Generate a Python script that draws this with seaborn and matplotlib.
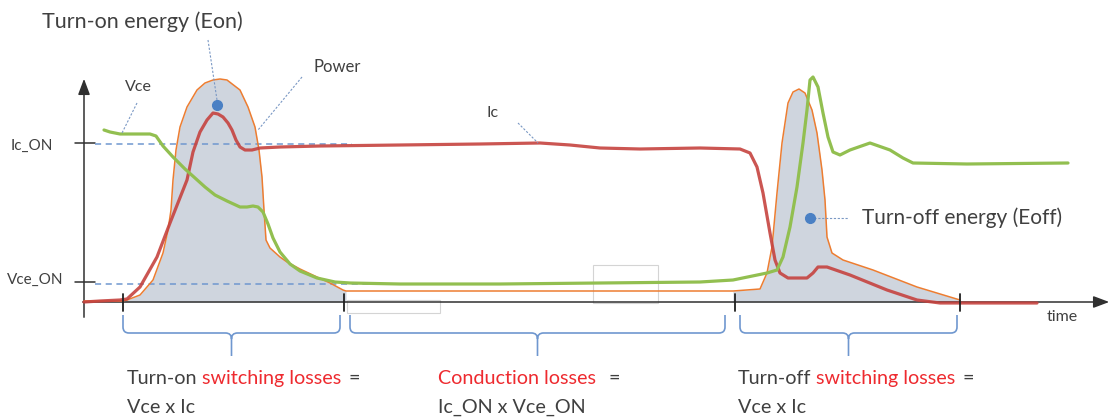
import numpy as np
import pandas as pd
import seaborn as sns
import matplotlib
matplotlib.use("Agg")
import matplotlib.pyplot as plt
from matplotlib.path import Path
from matplotlib.patches import PathPatch, Rectangle

# ---------------- data (time, height above the time axis) ----------------
ic_t = [84, 100, 120, 127, 140, 157, 170, 187, 193, 200, 207, 213, 218, 223, 228, 232, 236, 240, 245, 252,
        260, 280, 320, 400, 480, 540, 570, 600, 640, 700, 740, 750, 757, 763, 770, 775, 780, 788, 807, 813,
        818, 827, 850, 887, 917, 940, 1037]
ic_v = [0, 1, 2, 3, 15, 45, 79, 122, 150, 170, 182, 189, 188, 185, 179, 172, 162, 155, 152, 152,
        154, 155, 156, 157, 158, 159, 157, 154, 153, 154, 153, 149, 135, 109, 69, 42, 29, 24, 24, 29,
        35, 35, 27, 12, 2, -1, -1]

vce_t = [104, 110, 120, 150, 156, 163, 173, 185, 195, 205, 215, 227, 240, 247, 253, 258, 263, 268, 273,
         280, 290, 300, 317, 335, 350, 400, 500, 600, 700, 733, 767, 777, 783, 790, 797, 803, 807, 810,
         813, 818, 823, 828, 833, 840, 850, 870, 890, 903, 913, 967, 1068]
vce_v = [172, 170, 168, 168, 166, 156, 145, 133, 124, 115, 107, 101, 95, 95, 96, 95, 90, 78, 64,
         50, 38, 31, 24, 20, 19, 18, 18, 19, 20, 22, 29, 32, 45, 75, 115, 159, 192, 222,
         225, 215, 189, 165, 150, 147, 152, 159, 152, 144, 139, 138, 139]

pw_t = [84, 122, 127, 140, 153, 163, 168, 171, 173, 176, 180, 187, 197, 205, 213, 220, 227, 240, 248,
        255, 259, 262, 264, 266, 270, 280, 287, 300, 317, 330, 343, 346, 500, 733, 760, 767, 772, 777,
        782, 788, 793, 799, 805, 812, 817, 822, 825, 827, 832, 843, 873, 917, 960]
pw_v = [1, 1, 2, 7, 22, 49, 72, 92, 122, 152, 175, 195, 212, 219, 222, 223, 222, 212, 195,
        175, 152, 125, 92, 62, 54, 45, 40, 33, 25, 19, 12, 11, 11, 11, 13, 29, 55, 109,
        159, 199, 210, 213, 209, 192, 169, 132, 102, 65, 49, 42, 32, 15, 2]

ic_on_level = 158
vce_on_level = 19
phase_edges = [123, 344, 735, 960]
brace_spans = [(123, 340), (350, 725), (740, 957)]

TEXT = "#404040"
RED_TXT = "#EE2A2F"
C_IC = "#C6433F"
C_VCE = "#92BF50"
C_PW = "#ED7D31"
C_FILL = "#CFD5DE"
C_BLUE = "#6F97CF"
C_DOT = "#4A80C4"

sns.set_theme(style="white")
plt.rcParams["font.family"] = ["Lato", "DejaVu Sans"]

fig = plt.figure(figsize=(11.12, 4.19), dpi=100)
ax = fig.add_axes([0, 0, 1, 1])
ax.set_xlim(0, 1112)
ax.set_ylim(-117, 302)
ax.axis("off")

pw_t_a = np.array(pw_t, float)
pw_v_a = np.array(pw_v, float)
m_on = (pw_t_a >= 122) & (pw_t_a <= 346)
m_off = (pw_t_a >= 733) & (pw_t_a <= 960)
ax.fill_between(pw_t_a[m_on], 0, pw_v_a[m_on], color=C_FILL, lw=0, zorder=1)
ax.fill_between(pw_t_a[m_off], 0, pw_v_a[m_off], color=C_FILL, lw=0, zorder=1)

# faint rectangles
ax.add_patch(Rectangle((347, -11), 93, 13, fill=False, ec="#D4D4D4", lw=0.8, zorder=1))
ax.add_patch(Rectangle((593, -1), 65, 38, fill=False, ec="#D4D4D4", lw=0.8, zorder=1))

# axes arrows
ax.annotate("", xy=(1112, 0), xytext=(80, 0),
            arrowprops=dict(arrowstyle="-|>,head_length=0.8,head_width=0.3", color="#303030", lw=1.1), zorder=2)
ax.annotate("", xy=(84, 226), xytext=(84, -18),
            arrowprops=dict(arrowstyle="-|>,head_length=0.8,head_width=0.3", color="#303030", lw=1.1), zorder=2)

# y ticks and dashed reference levels
for lvl in (ic_on_level, vce_on_level):
    ax.plot([75, 95], [lvl + 1, lvl + 1], color="#303030", lw=1.1, zorder=2)
ax.plot([95, 352], [ic_on_level, ic_on_level], color=C_BLUE, lw=1.1, ls=(0, (4, 3)), zorder=2)
ax.plot([95, 378], [vce_on_level - 1, vce_on_level - 1], color=C_BLUE, lw=1.1, ls=(0, (4, 3)), zorder=2)
ax.text(53, ic_on_level - 2, "Ic_ON", ha="right", va="center", fontsize=11, color=TEXT)
ax.text(63, 22, "Vce_ON", ha="right", va="center", fontsize=11, color=TEXT)

# curves
sns.lineplot(x=pw_t, y=pw_v, ax=ax, sort=False, estimator=None, color=C_PW, lw=1.1, zorder=3)
sns.lineplot(x=ic_t, y=ic_v, ax=ax, sort=False, estimator=None, color=C_IC, lw=2.3, alpha=0.9, zorder=4)
sns.lineplot(x=vce_t, y=vce_v, ax=ax, sort=False, estimator=None, color=C_VCE, lw=2.3, zorder=5)
for ln in ax.lines:
    ln.set_solid_capstyle("round")
    ln.set_solid_joinstyle("round")

# phase ticks on time axis
for x in phase_edges:
    ax.plot([x, x], [8, -9], color="#202020", lw=1.3, zorder=6)

# leaders / annotations
lead = dict(color="#7A98C4", lw=0.8, ls=(0, (2, 1.5)), zorder=6)
ax.plot([208, 217], [262, 202], **lead)
ax.plot([137, 122], [199, 169], **lead)
ax.plot([302, 258], [225, 172], **lead)
ax.plot([518, 538], [179, 159], **lead)
ax.plot([810, 848], [84, 84], **lead)
ax.plot([217], [197], "o", ms=7, color=C_DOT, zorder=7)
ax.plot([810], [84], "o", ms=7, color=C_DOT, zorder=7)

ax.text(42, 280, "Turn-on energy (Eon)", ha="left", va="center", fontsize=15.5, color=TEXT)
ax.text(862, 84, "Turn-off energy (Eoff)", ha="left", va="center", fontsize=15, color=TEXT)
ax.text(138, 215, "Vce", ha="center", va="center", fontsize=11.5, color=TEXT)
ax.text(337, 235, "Power", ha="center", va="center", fontsize=12, color=TEXT)
ax.text(493, 189, "Ic", ha="center", va="center", fontsize=11.5, color=TEXT)
ax.text(1047, -15, "time", ha="left", va="center", fontsize=11.5, color=TEXT)

# braces
def brace(x0, x1, top=-13, mid_y=-31, tip=-54, r=6):
    xm = (x0 + x1) / 2
    verts = [(x0, top), (x0, mid_y + r), (x0, mid_y), (x0 + r, mid_y),
             (xm - r, mid_y), (xm, mid_y), (xm, mid_y - r), (xm, tip),
             (xm, mid_y - r), (xm, mid_y), (xm + r, mid_y),
             (x1 - r, mid_y), (x1, mid_y), (x1, mid_y + r), (x1, top)]
    codes = [Path.MOVETO, Path.LINETO, Path.CURVE3, Path.CURVE3,
             Path.LINETO, Path.CURVE3, Path.CURVE3, Path.LINETO,
             Path.MOVETO, Path.CURVE3, Path.CURVE3,
             Path.LINETO, Path.CURVE3, Path.CURVE3, Path.LINETO]
    ax.add_patch(PathPatch(Path(verts, codes), fill=False, ec=C_BLUE, lw=1.2, zorder=6))

for a, b in brace_spans:
    brace(a, b)

# bottom rich text
FS = 14.2
def rich(x, y, parts, size=FS):
    t = ax.text(x, y, parts[0][0], color=parts[0][1], fontsize=size, ha="left", va="center")
    prev = t
    for s, c, gap in parts[1:]:
        prev = ax.annotate(s, xy=(1, 0), xycoords=prev, xytext=(gap, 0), textcoords="offset points",
                           color=c, fontsize=size, ha="left", va="bottom")

rich(127, -76, [("Turn-on", TEXT), ("switching losses", RED_TXT, 3.5), ("=", TEXT, 5)])
ax.text(127, -105, "Vce x Ic", ha="left", va="center", fontsize=FS, color=TEXT)
rich(438, -76, [("Conduction losses", RED_TXT), ("=", TEXT, 9)])
ax.text(438, -105, "Ic_ON x Vce_ON", ha="left", va="center", fontsize=FS, color=TEXT)
rich(738, -76, [("Turn-off", TEXT), ("switching losses", RED_TXT, 3.5), ("=", TEXT, 5)])
ax.text(738, -105, "Vce x Ic", ha="left", va="center", fontsize=FS, color=TEXT)

fig.savefig("out.png", dpi=100)
